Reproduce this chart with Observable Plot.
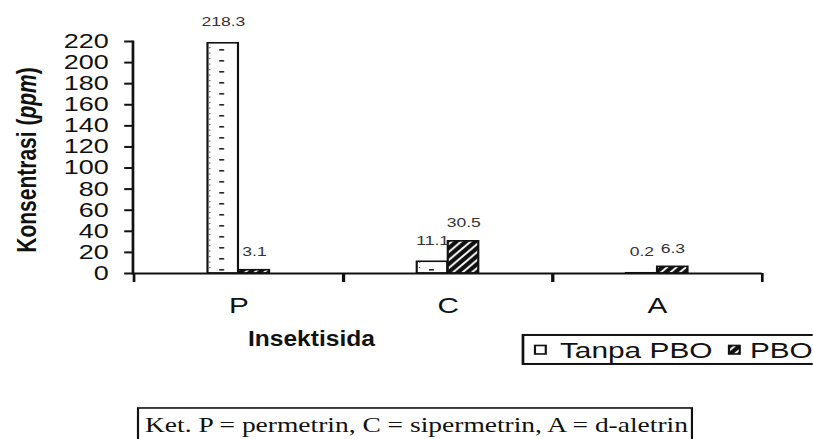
<!DOCTYPE html>
<html><head><meta charset="utf-8">
<script src="https://cdn.jsdelivr.net/npm/d3@7"></script>
<script src="https://cdn.jsdelivr.net/npm/@observablehq/plot@0.6"></script>
<style>
html,body{margin:0;padding:0;background:#fff;overflow:hidden}
#wrap{width:602.2px;height:439px;transform:scaleX(1.35);transform-origin:0 0;}
</style></head><body><div id="wrap"></div><script>
// ---- data ----
const categories = ["P", "C", "A"];
const tanpaPBO = [218.3, 11.1, 0.2];
const denganPBO = [3.1, 30.5, 6.3];
const seriesNames = ["Tanpa PBO", "PBO"];
const yTicks = [0, 20, 40, 60, 80, 100, 120, 140, 160, 180, 200, 220];
const yTitleParts = ["Konsentrasi (", "ppm", ")"];
const xTitle = "Insektisida";
const captionText = "Ket. P = permetrin, C = sipermetrin, A = d-aletrin";

const rows = categories.map((c, i) => ({cat: c, tanpa: tanpaPBO[i], pbo: denganPBO[i]}));

// ---- layout (internal units; whole chart stretched horizontally like the reference) ----
const S = 1.35, W = 813 / S, H = 439;
const mL = 98, mR = 38, mT = 41, mB = 166;
const bw = (W - mL - mR) / categories.length;
const barW = 23;
const ink = "#111";

const plot = Plot.plot({
  width: W, height: H,
  marginLeft: mL, marginRight: mR, marginTop: mT, marginBottom: mB,
  style: {fontFamily: "'Liberation Sans', Arial, sans-serif", background: "white", color: ink},
  x: {domain: categories, padding: 0, axis: null},
  y: {domain: [0, 220], axis: null},
  marks: [
    Plot.barY(rows, {x: "cat", y: "tanpa", fill: "url(#patTanpa)", stroke: ink, strokeWidth: 1.6,
      insetLeft: bw / 2 - barW, insetRight: bw / 2}),
    Plot.barY(rows, {x: "cat", y: "pbo", fill: "url(#patPBO)", stroke: ink, strokeWidth: 1.6,
      insetLeft: bw / 2, insetRight: bw / 2 - barW}),
    Plot.ruleY([0], {stroke: ink, strokeWidth: 2}),
    Plot.frame({anchor: "left", stroke: ink, strokeWidth: 2}),
    Plot.axisY({ticks: yTicks, tickSize: 6, tickPadding: 12, fontSize: 20, fontWeight: 500, label: null, stroke: ink, strokeWidth: 2}),
    Plot.axisX({tickSize: 9, tickFormat: () => "", dx: -bw / 2, label: null, stroke: ink, strokeWidth: 2}),
    Plot.axisX({tickSize: 9, tickFormat: () => "", dx: bw / 2, label: null, stroke: ink, strokeWidth: 2}),
    Plot.axisX({tickSize: 0, tickPadding: 24, fontSize: 22, label: null}),
    Plot.text(rows, {x: "cat", y: "tanpa", text: d => String(d.tanpa), dx: -barW / 2, dy: -21, fontSize: 13, fill: "#333"}),
    Plot.text(rows, {x: "cat", y: "pbo", text: d => String(d.pbo), dx: barW / 2, dy: -18, fontSize: 13, fill: "#333"})
  ]
});

document.getElementById("wrap").appendChild(plot);
const svg = d3.select(plot);

// patterns
const defs = svg.insert("defs", ":first-child");
const pT = defs.append("pattern").attr("id", "patTanpa").attr("patternUnits", "userSpaceOnUse")
  .attr("x", mL).attr("y", mT + 4).attr("width", bw).attr("height", 11);
pT.append("rect").attr("width", bw).attr("height", 11).attr("fill", "white");
pT.append("rect").attr("x", bw / 2 - barW / 2 - 1.8).attr("y", 4).attr("width", 3.6).attr("height", 1.6).attr("fill", "#222");
pT.append("rect").attr("x", bw / 2 - barW + 2.2).attr("y", 2).attr("width", 1).attr("height", 1.2).attr("fill", "#555");
pT.append("rect").attr("x", bw / 2 - barW + 2.2).attr("y", 7.5).attr("width", 1).attr("height", 1.2).attr("fill", "#555");

const pP = defs.append("pattern").attr("id", "patPBO").attr("patternUnits", "userSpaceOnUse")
  .attr("width", 7).attr("height", 8);
pP.append("rect").attr("width", 7).attr("height", 8).attr("fill", "#111");
pP.append("path").attr("d", "M0,8L7,0M-1,1L1,-1M6,9L8,7").attr("stroke", "white").attr("stroke-width", 1.6);

// y title
const yt = svg.append("text")
  .attr("transform", `translate(${28 / S},160) rotate(-90)`)
  .attr("text-anchor", "middle").attr("dominant-baseline", "middle")
  .attr("font-size", 21).attr("font-weight", "bold").attr("fill", ink);
yt.append("tspan").text(yTitleParts[0]);
yt.append("tspan").attr("font-style", "italic").text(yTitleParts[1]);
yt.append("tspan").text(yTitleParts[2]);

// x title
svg.append("text").attr("x", 248 / S).attr("y", 346).attr("text-anchor", "start")
  .attr("font-size", 22).attr("font-weight", "bold").attr("fill", ink)
  .attr("textLength", 94).attr("lengthAdjust", "spacingAndGlyphs").text(xTitle);

// legend
const lg = svg.append("g").attr("text-anchor", "start");
lg.append("rect").attr("x", 523 / S).attr("y", 335).attr("width", 260).attr("height", 29)
  .attr("fill", "white").attr("stroke", ink).attr("stroke-width", 2);
lg.append("rect").attr("x", 535 / S).attr("y", 345.5).attr("width", 8).attr("height", 8.5)
  .attr("fill", "white").attr("stroke", ink).attr("stroke-width", 1.6);
lg.append("text").attr("x", 560 / S).attr("y", 358).attr("font-size", 22).attr("fill", ink)
  .attr("textLength", 113).attr("lengthAdjust", "spacingAndGlyphs").text(seriesNames[0]);
lg.append("rect").attr("x", 729 / S).attr("y", 345.5).attr("width", 8).attr("height", 8.5)
  .attr("fill", "url(#patPBO)").attr("stroke", ink).attr("stroke-width", 1.6);
lg.append("text").attr("x", 750 / S).attr("y", 358).attr("font-size", 22).attr("fill", ink).text(seriesNames[1]);

// caption
svg.append("rect").attr("x", 138 / S).attr("y", 408).attr("width", (692 - 138) / S).attr("height", 40)
  .attr("fill", "none").attr("stroke", ink).attr("stroke-width", 1.6);
svg.append("text").attr("x", 145 / S).attr("y", 432).attr("text-anchor", "start")
  .attr("font-family", "'Liberation Serif', 'Times New Roman', serif").attr("font-size", 21.5).attr("fill", ink)
  .attr("textLength", 543 / S).attr("lengthAdjust", "spacingAndGlyphs").text(captionText);
</script></body></html>
